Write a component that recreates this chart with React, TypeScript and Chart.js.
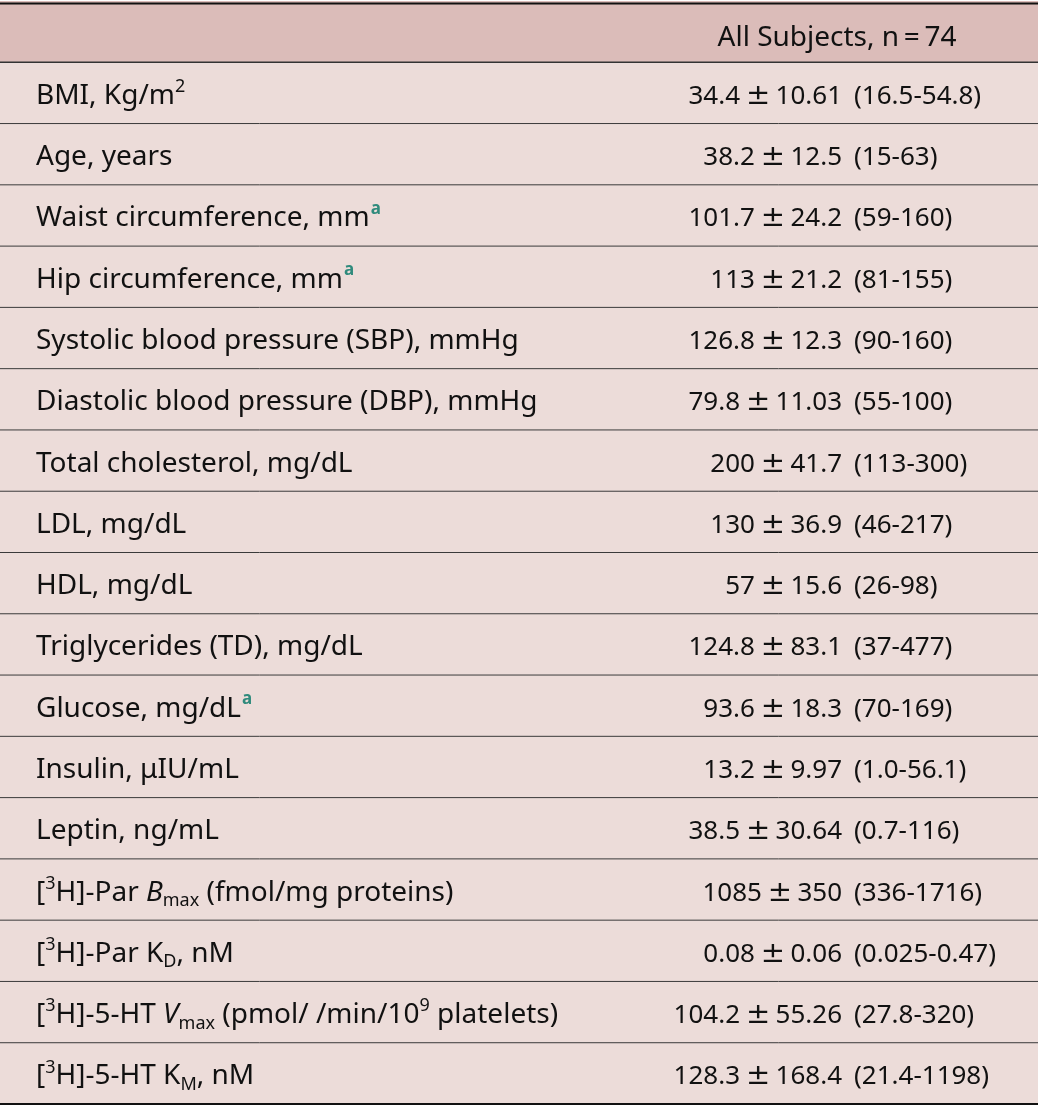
import React, { useEffect, useRef } from "react";
import { Chart, registerables } from "chart.js";
Chart.register(...registerables);

const headerLabel = "All Subjects, n\u2009=\u200974";
const rowLabels = [
  "BMI, Kg/m^{2}",
  "Age, years",
  "Waist circumference, mm#{a}",
  "Hip circumference, mm#{a}",
  "Systolic blood pressure (SBP), mmHg",
  "Diastolic blood pressure (DBP), mmHg",
  "Total cholesterol, mg/dL",
  "LDL, mg/dL",
  "HDL, mg/dL",
  "Triglycerides (TD), mg/dL",
  "Glucose, mg/dL#{a}",
  "Insulin, \u03bcIU/mL",
  "Leptin, ng/mL",
  "[^{3}H]-Par *B*_{max} (fmol/mg proteins)",
  "[^{3}H]-Par K_{D}, nM",
  "[^{3}H]-5-HT *V*_{max} (pmol/ /min/10^{9} platelets)",
  "[^{3}H]-5-HT K_{M}, nM",
];
const means = ["34.4", "38.2", "101.7", "113", "126.8", "79.8", "200", "130", "57", "124.8", "93.6", "13.2", "38.5", "1085", "0.08", "104.2", "128.3"];
const sds = ["10.61", "12.5", "24.2", "21.2", "12.3", "11.03", "41.7", "36.9", "15.6", "83.1", "18.3", "9.97", "30.64", "350", "0.06", "55.26", "168.4"];
const ranges = ["16.5-54.8", "15-63", "59-160", "81-155", "90-160", "55-100", "113-300", "46-217", "26-98", "37-477", "70-169", "1.0-56.1", "0.7-116", "336-1716", "0.025-0.47", "27.8-320", "21.4-1198"];

const W = 1038;
const H = 1108;
const FONT = '"Noto Sans", sans-serif';
const SIZE = 28;
const VSIZE = 26;
const HEADER_BG = "#dbbcb9";
const ROW_BG = "#ecdcd9";
const NOTE_COLOR = "#2f8a7c";
const TEXT = "#111111";

type Seg = { t: string; kind: "n" | "sup" | "sub" | "it" | "note" };

function parse(s: string): Seg[] {
  const out: Seg[] = [];
  const re = /(\^\{[^}]*\}|_\{[^}]*\}|\*[^*]*\*|#\{[^}]*\})/g;
  let last = 0;
  let m: RegExpExecArray | null;
  while ((m = re.exec(s))) {
    if (m.index > last) out.push({ t: s.slice(last, m.index), kind: "n" });
    const tok = m[0];
    if (tok[0] === "^") out.push({ t: tok.slice(2, -1), kind: "sup" });
    else if (tok[0] === "_") out.push({ t: tok.slice(2, -1), kind: "sub" });
    else if (tok[0] === "*") out.push({ t: tok.slice(1, -1), kind: "it" });
    else out.push({ t: tok.slice(2, -1), kind: "note" });
    last = m.index + tok.length;
  }
  if (last < s.length) out.push({ t: s.slice(last), kind: "n" });
  return out;
}

function drawRich(ctx: CanvasRenderingContext2D, s: string, x: number, y: number) {
  let cx = x;
  ctx.textAlign = "left";
  ctx.textBaseline = "alphabetic";
  for (const seg of parse(s)) {
    let dy = 0;
    ctx.fillStyle = TEXT;
    if (seg.kind === "n") ctx.font = `${SIZE}px ${FONT}`;
    else if (seg.kind === "it") ctx.font = `italic ${SIZE}px ${FONT}`;
    else if (seg.kind === "sup") {
      ctx.font = `${Math.round(SIZE * 0.64)}px ${FONT}`;
      dy = -SIZE * 0.42;
    } else if (seg.kind === "sub") {
      ctx.font = `${Math.round(SIZE * 0.64)}px ${FONT}`;
      dy = SIZE * 0.2;
    } else {
      ctx.font = `bold ${Math.round(SIZE * 0.62)}px ${FONT}`;
      ctx.fillStyle = NOTE_COLOR;
      dy = -SIZE * 0.44;
      cx += 1;
    }
    ctx.fillText(seg.t, cx, y + dy);
    cx += ctx.measureText(seg.t).width;
  }
}

const tablePlugin = {
  id: "tableText",
  afterDatasetsDraw(chart: any) {
    const ctx: CanvasRenderingContext2D = chart.ctx;
    const xs = chart.scales.x;
    const ys = chart.scales.y;
    const band = ys.getPixelForValue(1) - ys.getPixelForValue(0);
    const left = xs.getPixelForValue(0);
    const right = xs.getPixelForValue(1);
    const n = rowLabels.length + 1;
    ctx.save();
    // row separators
    for (let i = 0; i <= n; i++) {
      let y = ys.getPixelForValue(i) - band / 2;
      let lw = 1;
      let col = "#3a3a3a";
      if (i === 0) {
        lw = 2;
        col = "#111";
        y += 2.5;
      } else if (i === n) {
        lw = 2;
        col = "#111";
      } else if (i === 1) {
        lw = 1.5;
        col = "#333";
      }
      ctx.beginPath();
      ctx.strokeStyle = col;
      ctx.lineWidth = lw;
      ctx.moveTo(left, y);
      ctx.lineTo(right, y);
      ctx.stroke();
    }
    // header
    const hy = ys.getPixelForValue(0) + 14;
    ctx.fillStyle = TEXT;
    ctx.font = `${SIZE}px ${FONT}`;
    ctx.textAlign = "center";
    ctx.textBaseline = "alphabetic";
    ctx.fillText(headerLabel, xs.getPixelForValue(837 / W), hy);
    // rows
    const sdRight = xs.getPixelForValue(842 / W);
    const rangeLeft = xs.getPixelForValue(854 / W);
    for (let r = 0; r < rowLabels.length; r++) {
      const cy = ys.getPixelForValue(r + 1) + 11;
      drawRich(ctx, rowLabels[r], xs.getPixelForValue(36 / W), cy);
      ctx.fillStyle = TEXT;
      ctx.font = `${VSIZE}px ${FONT}`;
      ctx.textAlign = "right";
      ctx.fillText(sds[r], sdRight, cy);
      const sdW = ctx.measureText(sds[r]).width;
      const pmC = sdRight - sdW - 17.5;
      ctx.textAlign = "left";
      ctx.fillText(`(${ranges[r]})`, rangeLeft, cy);
      ctx.font = `29px "DejaVu Sans", sans-serif`;
      ctx.textAlign = "center";
      ctx.fillText("\u00b1", pmC, cy);
      ctx.font = `${VSIZE}px ${FONT}`;
      ctx.textAlign = "right";
      ctx.fillText(means[r], pmC - 18, cy);
    }
    ctx.restore();
  },
};

export default function App() {
  const ref = useRef<HTMLCanvasElement | null>(null);
  useEffect(() => {
    document.body.style.margin = "0";
    document.body.style.background = "#ffffff";
    const canvas = ref.current;
    if (!canvas) return;
    const labels = ["", ...rowLabels];
    const chart = new Chart(canvas, {
      type: "bar",
      data: {
        labels,
        datasets: [
          {
            data: labels.map(() => [0, 1]) as any,
            backgroundColor: labels.map((_, i) => (i === 0 ? HEADER_BG : ROW_BG)),
            borderWidth: 0,
            barPercentage: 1,
            categoryPercentage: 1,
          },
        ],
      },
      options: {
        indexAxis: "y",
        responsive: false,
        animation: false,
        events: [],
        layout: { padding: { top: 1, bottom: 4, left: 0, right: 0 } },
        plugins: { legend: { display: false }, tooltip: { enabled: false } },
        scales: {
          x: { type: "linear", min: 0, max: 1, display: false },
          y: { type: "category", display: false },
        },
      },
      plugins: [tablePlugin],
    });
    return () => chart.destroy();
  }, []);
  return <canvas ref={ref} width={W} height={H} style={{ display: "block", width: W, height: H }} />;
}
